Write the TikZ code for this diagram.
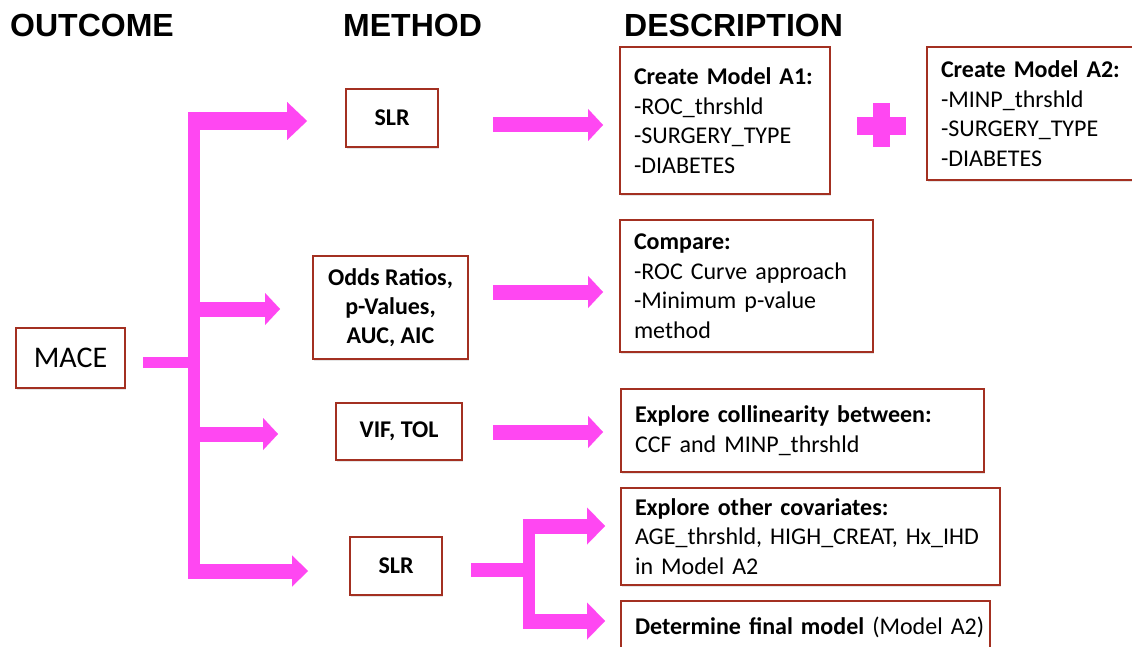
\documentclass[tikz,border=0pt]{standalone}
\usepackage{fontspec}
\setmainfont{Carlito}
\newfontfamily\hdrfont{Liberation Sans}
\usetikzlibrary{arrows.meta,shadows}
\definecolor{mag}{RGB}{255,71,242}
\definecolor{boxred}{RGB}{163,48,33}
\tikzset{
  box/.style={draw=boxred, line width=1.8pt, fill=white, inner sep=0pt,
    drop shadow={shadow xshift=1pt, shadow yshift=-2pt, opacity=0.2},
    font=\fontsize{24}{29.5}\selectfont},
  descbox/.style={box, align=left, inner xsep=14pt},
  methbox/.style={box, align=center, font=\bfseries\fontsize{24}{29}\selectfont},
  hdr/.style={font=\hdrfont\bfseries\fontsize{32}{36}\selectfont, anchor=base west, inner sep=0pt},
  barrow/.style={draw=mag, line width=15pt, -{Triangle[length=15pt,width=32pt,line width=0.01pt]}},
  bigarrow/.style={draw=mag, line width=18pt, -{Triangle[length=20pt,width=38pt,line width=0.01pt]}},
  bar/.style={draw=mag, line width=12pt},
  plusbar/.style={fill=mag, draw=none},
}
\begin{document}
\begin{tikzpicture}[x=1pt,y=-1pt]
\useasboundingbox (0,0) rectangle (1132,647);
\clip (0,0) rectangle (1132,647);
\fill[white] (0,0) rectangle (1132,647);

% headers
\node[hdr] (hout) at (10,37) {OUTCOME};
\node[hdr] (hmeth) at (343,37) {METHOD};
\node[hdr] (hdesc) at (624,37) {DESCRIPTION};

% outcome
\node[box, font=\fontsize{30}{36}\selectfont, minimum width=109pt, minimum height=60pt] (mace) at (70.5,358) {MACE};

% method boxes
\node[methbox, minimum width=92pt, minimum height=58pt] (slr1) at (392,118) {SLR};
\node[methbox, minimum width=155pt, minimum height=103pt] (odds) at (390.5,307.5) {Odds Ratios,\\ p-Values,\\ AUC, AIC};
\node[methbox, minimum width=126pt, minimum height=57pt] (vif) at (399,431.5) {VIF, TOL};
\node[methbox, minimum width=92pt, minimum height=58pt] (slr2) at (396,566) {SLR};

% description boxes
\node[descbox, text width=182pt, minimum height=147pt] (a1) at (725,120.5)
  {\mbox{\textbf{Create Model A1:}}\\ -ROC\_thrshld\\ -SURGERY\_TYPE\\ -DIABETES};
\node[descbox, text width=185pt, minimum height=133pt] (a2) at (1033.5,113.5)
  {\mbox{\textbf{Create Model A2:}}\\ -MINP\_thrshld\\ -SURGERY\_TYPE\\ -DIABETES};
\node[descbox, text width=225pt, minimum height=132pt] (cmp) at (746.5,286)
  {\textbf{Compare:}\\ \mbox{-ROC Curve approach}\\ -Minimum p-value\\ method};
\node[descbox, text width=335pt, minimum height=83pt] (col) at (802.5,430.5)
  {\mbox{\textbf{Explore collinearity between:}}\\ CCF and MINP\_thrshld};
\node[descbox, text width=351pt, minimum height=97pt] (cov) at (810.5,536.5)
  {\mbox{\textbf{Explore other covariates:}}\\ \mbox{AGE\_thrshld, HIGH\_CREAT, Hx\_IHD}\\ in Model A2};
\node[descbox, text width=341pt, minimum height=52pt] (fin) at (805.5,627)
  {\mbox{\textbf{Determine final model} (Model A2)}};

% connector coordinates
\coordinate (st) at (143,362);
\coordinate (tr) at (194,362);
\coordinate (trtop) at (194,112);
\coordinate (trbot) at (194,578);
\coordinate (b1s) at (188,121);  \coordinate (b1e) at (307,121);
\coordinate (b2s) at (194,309);  \coordinate (b2e) at (280,309);
\coordinate (b3s) at (194,434);  \coordinate (b3e) at (278,434);
\coordinate (b4s) at (188,571);  \coordinate (b4e) at (308,571);
\coordinate (m1s) at (493,125);  \coordinate (m1e) at (603,125);
\coordinate (m2s) at (493,292);  \coordinate (m2e) at (603,292);
\coordinate (m3s) at (493,432);  \coordinate (m3e) at (603,432);
\coordinate (fs) at (471,570);   \coordinate (fm) at (529,570);
\coordinate (ftop) at (529,519); \coordinate (fbot) at (529,628);
\coordinate (f1s) at (523,526);  \coordinate (f1e) at (605,526);
\coordinate (f2s) at (523,621);  \coordinate (f2e) at (605,621);

% outcome tree
\draw[bar, line width=11pt] (st) -- (tr);
\draw[bar] (trtop) -- (trbot);
\draw[bigarrow] (b1s) -- (b1e);
\draw[barrow] (b2s) -- (b2e);
\draw[barrow] (b3s) -- (b3e);
\draw[barrow, -{Triangle[length=16pt,width=31pt,line width=0.01pt]}] (b4s) -- (b4e);

% method -> description
\draw[barrow] (m1s) -- (m1e);
\draw[barrow] (m2s) -- (m2e);
\draw[barrow] (m3s) -- (m3e);

% fork
\draw[bar, line width=14pt] (fs) -- (fm);
\draw[bar] (ftop) -- (fbot);
\draw[barrow, -{Triangle[length=18pt,width=37pt,line width=0.01pt]}] (f1s) -- (f1e);
\draw[barrow, -{Triangle[length=18pt,width=37pt,line width=0.01pt]}] (f2s) -- (f2e);

% plus sign
\fill[plusbar] (857,117) rectangle (906,135);
\fill[plusbar] (873,103) rectangle (890,147);
\end{tikzpicture}
\end{document}
